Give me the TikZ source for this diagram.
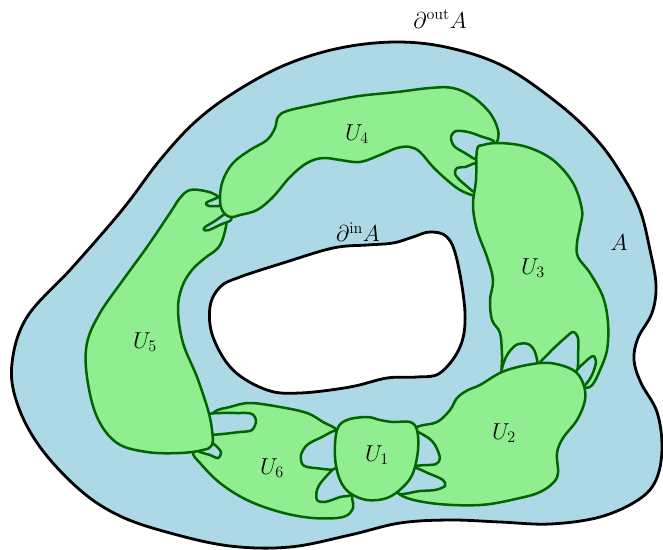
\RequirePackage{fix-cm}
\documentclass[tikz,border=0pt]{standalone}
\definecolor{regionblue}{HTML}{ADD8E6}
\definecolor{blobgreen}{HTML}{90EE90}
\definecolor{blobedge}{HTML}{006400}
\tikzset{
  outerline/.style={draw=black, line width=2.8pt},
  blob/.style={fill=blobgreen, draw=blobedge, line width=2.5pt, line join=round},
  pocket/.style={fill=regionblue, draw=blobedge, line width=2.5pt, line join=round},
  lab/.style={font=\fontsize{23}{27}\selectfont, inner sep=0pt}
}
\begin{document}
\begin{tikzpicture}[x=1pt,y=-1pt]
\useasboundingbox (0,0) rectangle (663,549);
% outer region A
\draw[outerline, fill=regionblue] plot[smooth cycle, tension=0.6] coordinates {
 (397,42) (450,48) (505,67) (560,105) (597,140) (622,175) (640,210) (650,250)
 (656,285) (652,313) (638,338) (634,360) (641,383) (657,412) (662,448) (656,480)
 (638,500) (600,517) (550,524) (500,522) (450,520) (400,523) (350,535) (290,547)
 (230,546) (170,533) (120,516) (80,490) (40,447) (17,403) (12,363) (27,317)
 (70,270) (107,228) (130,200) (160,160) (195,122) (235,92) (285,65) (340,48)};
% inner hole
\draw[outerline, fill=white] plot[smooth cycle, tension=0.6] coordinates {
 (430,232) (447,237) (457,260) (465,313) (460,347) (440,373) (417,377) (387,378)
 (350,387) (300,393) (267,390) (233,370) (213,337) (210,307) (220,287) (240,277)
 (283,263) (333,248) (367,245) (393,243) (413,237)};
% U6
\draw[blob] plot[smooth cycle, tension=0.6] coordinates {
 (213,413) (230,407) (250,403) (280,407) (307,413) (323,422) (337,430) (345,445)
 (350,470) (352,497) (353,508) (343,517) (313,518) (280,512) (247,500) (220,483)
 (200,463) (193,452) (200,435)};
% pockets U5/U6
\draw[pocket] plot[smooth cycle, tension=0.5] coordinates {
 (205,415) (240,413) (252,414) (256,421) (252,430) (240,432) (205,434)};
\draw[pocket] plot[smooth cycle, tension=0.5] coordinates {
 (206,439) (215,445) (221,452) (218,458) (210,455) (197,450)};
% U5
\draw[blob] plot[smooth cycle, tension=0.6] coordinates {
 (190,190) (205,191) (216,195) (224,203) (227,217) (224,235) (218,248) (205,258)
 (192,270) (182,287) (178,310) (183,343) (197,377) (208,410) (212,430) (212,445)
 (203,450) (180,453) (147,452) (117,443) (97,417) (87,377) (87,343) (100,313)
 (123,280) (147,247) (170,213) (180,198)};
% pockets U4/U5
\draw[pocket] plot[smooth cycle, tension=0.5] coordinates {
 (224,196) (212,200) (206,203) (209,206) (224,205)};
\draw[pocket] plot[smooth cycle, tension=0.5] coordinates {
 (230,211) (215,221) (205,227) (204,230) (209,230) (222,224) (231,220)};
% U4
\draw[blob] plot[smooth cycle, tension=0.6] coordinates {
 (220,197) (223,180) (233,163) (250,150) (267,140) (275,128) (278,117) (287,111)
 (313,105) (347,98) (367,95) (397,92) (430,88) (453,88) (473,97) (490,113)
 (498,130) (497,142) (490,150) (485,170) (482,195) (475,196) (460,190) (447,180)
 (433,167) (420,152) (410,147) (397,148) (380,155) (360,162) (340,160) (323,158)
 (307,163) (290,177) (273,197) (257,210) (240,215) (230,217) (222,210)};
% pockets U3/U4
\draw[pocket] plot[smooth cycle, tension=0.5] coordinates {
 (495,143) (480,136) (468,132) (456,131) (451,137) (454,146) (465,153) (480,160)};
\draw[pocket] plot[smooth cycle, tension=0.5] coordinates {
 (480,164) (465,167) (457,168) (455,174) (463,183) (480,194)};
% U3
\draw[blob] plot[smooth cycle, tension=0.6] coordinates {
 (477,150) (483,145) (500,143) (527,147) (553,160) (573,183) (582,210) (580,227)
 (577,243) (578,257) (590,273) (603,297) (608,323) (607,350) (600,370) (593,384)
 (586,388) (578,384) (550,380) (520,385) (503,380) (502,355) (500,333) (492,320)
 (490,300) (493,280) (487,257) (477,230) (473,205) (476,180)};
% pockets U2/U3
\draw[pocket] plot[smooth cycle, tension=0.5] coordinates {
 (502,375) (506,357) (516,345) (528,344) (535,352) (537,370) (520,380)};
\draw[pocket] plot[smooth cycle, tension=0.5] coordinates {
 (537,368) (550,352) (565,338) (573,332) (578,338) (578,355) (576,372) (555,376)};
\draw[pocket] plot[smooth cycle, tension=0.5] coordinates {
 (576,372) (585,362) (593,356) (596,362) (592,375) (585,385) (579,384)};
% U2
\draw[blob] plot[smooth cycle, tension=0.6] coordinates {
 (400,440) (417,427) (437,422) (450,410) (457,398) (468,390) (480,385) (502,372)
 (527,365) (550,363) (573,370) (583,383) (585,400) (577,420) (563,438) (557,453)
 (558,473) (553,483) (540,492) (520,498) (480,505) (430,503) (398,493) (395,470)};
% pockets U1/U2 and U1/U6
\draw[pocket] plot[smooth cycle, tension=0.5] coordinates {
 (412,432) (427,437) (435,445) (440,458) (436,464) (425,465) (412,463)};
\draw[pocket] plot[smooth cycle, tension=0.5] coordinates {
 (410,468) (430,474) (443,480) (445,486) (435,490) (420,491) (398,493)};
\draw[pocket] plot[smooth cycle, tension=0.5] coordinates {
 (340,431) (320,438) (307,445) (301,455) (303,465) (315,468) (340,467)};
\draw[pocket] plot[smooth cycle, tension=0.5] coordinates {
 (338,468) (323,480) (317,490) (317,500) (325,502) (340,497) (352,493)};
% U1
\draw[blob] plot[smooth cycle, tension=0.6] coordinates {
 (337,430) (347,420) (367,417) (380,420) (393,422) (410,422) (417,430) (418,450)
 (413,473) (403,487) (387,498) (367,500) (350,493) (340,480) (335,457)};
% labels
\node[lab] (dout) at (440,19) {$\partial^{\mathrm{out}}A$};
\node[lab] (din) at (358,232) {$\partial^{\mathrm{in}}A$};
\node[lab] (la) at (619,243) {$A$};
\node[lab] (u1) at (377,455) {$U_1$};
\node[lab] (u2) at (504,433) {$U_2$};
\node[lab] (u3) at (533,268) {$U_3$};
\node[lab] (u4) at (357,134) {$U_4$};
\node[lab] (u5) at (145,342) {$U_5$};
\node[lab] (u6) at (272,468) {$U_6$};
\end{tikzpicture}
\end{document}
